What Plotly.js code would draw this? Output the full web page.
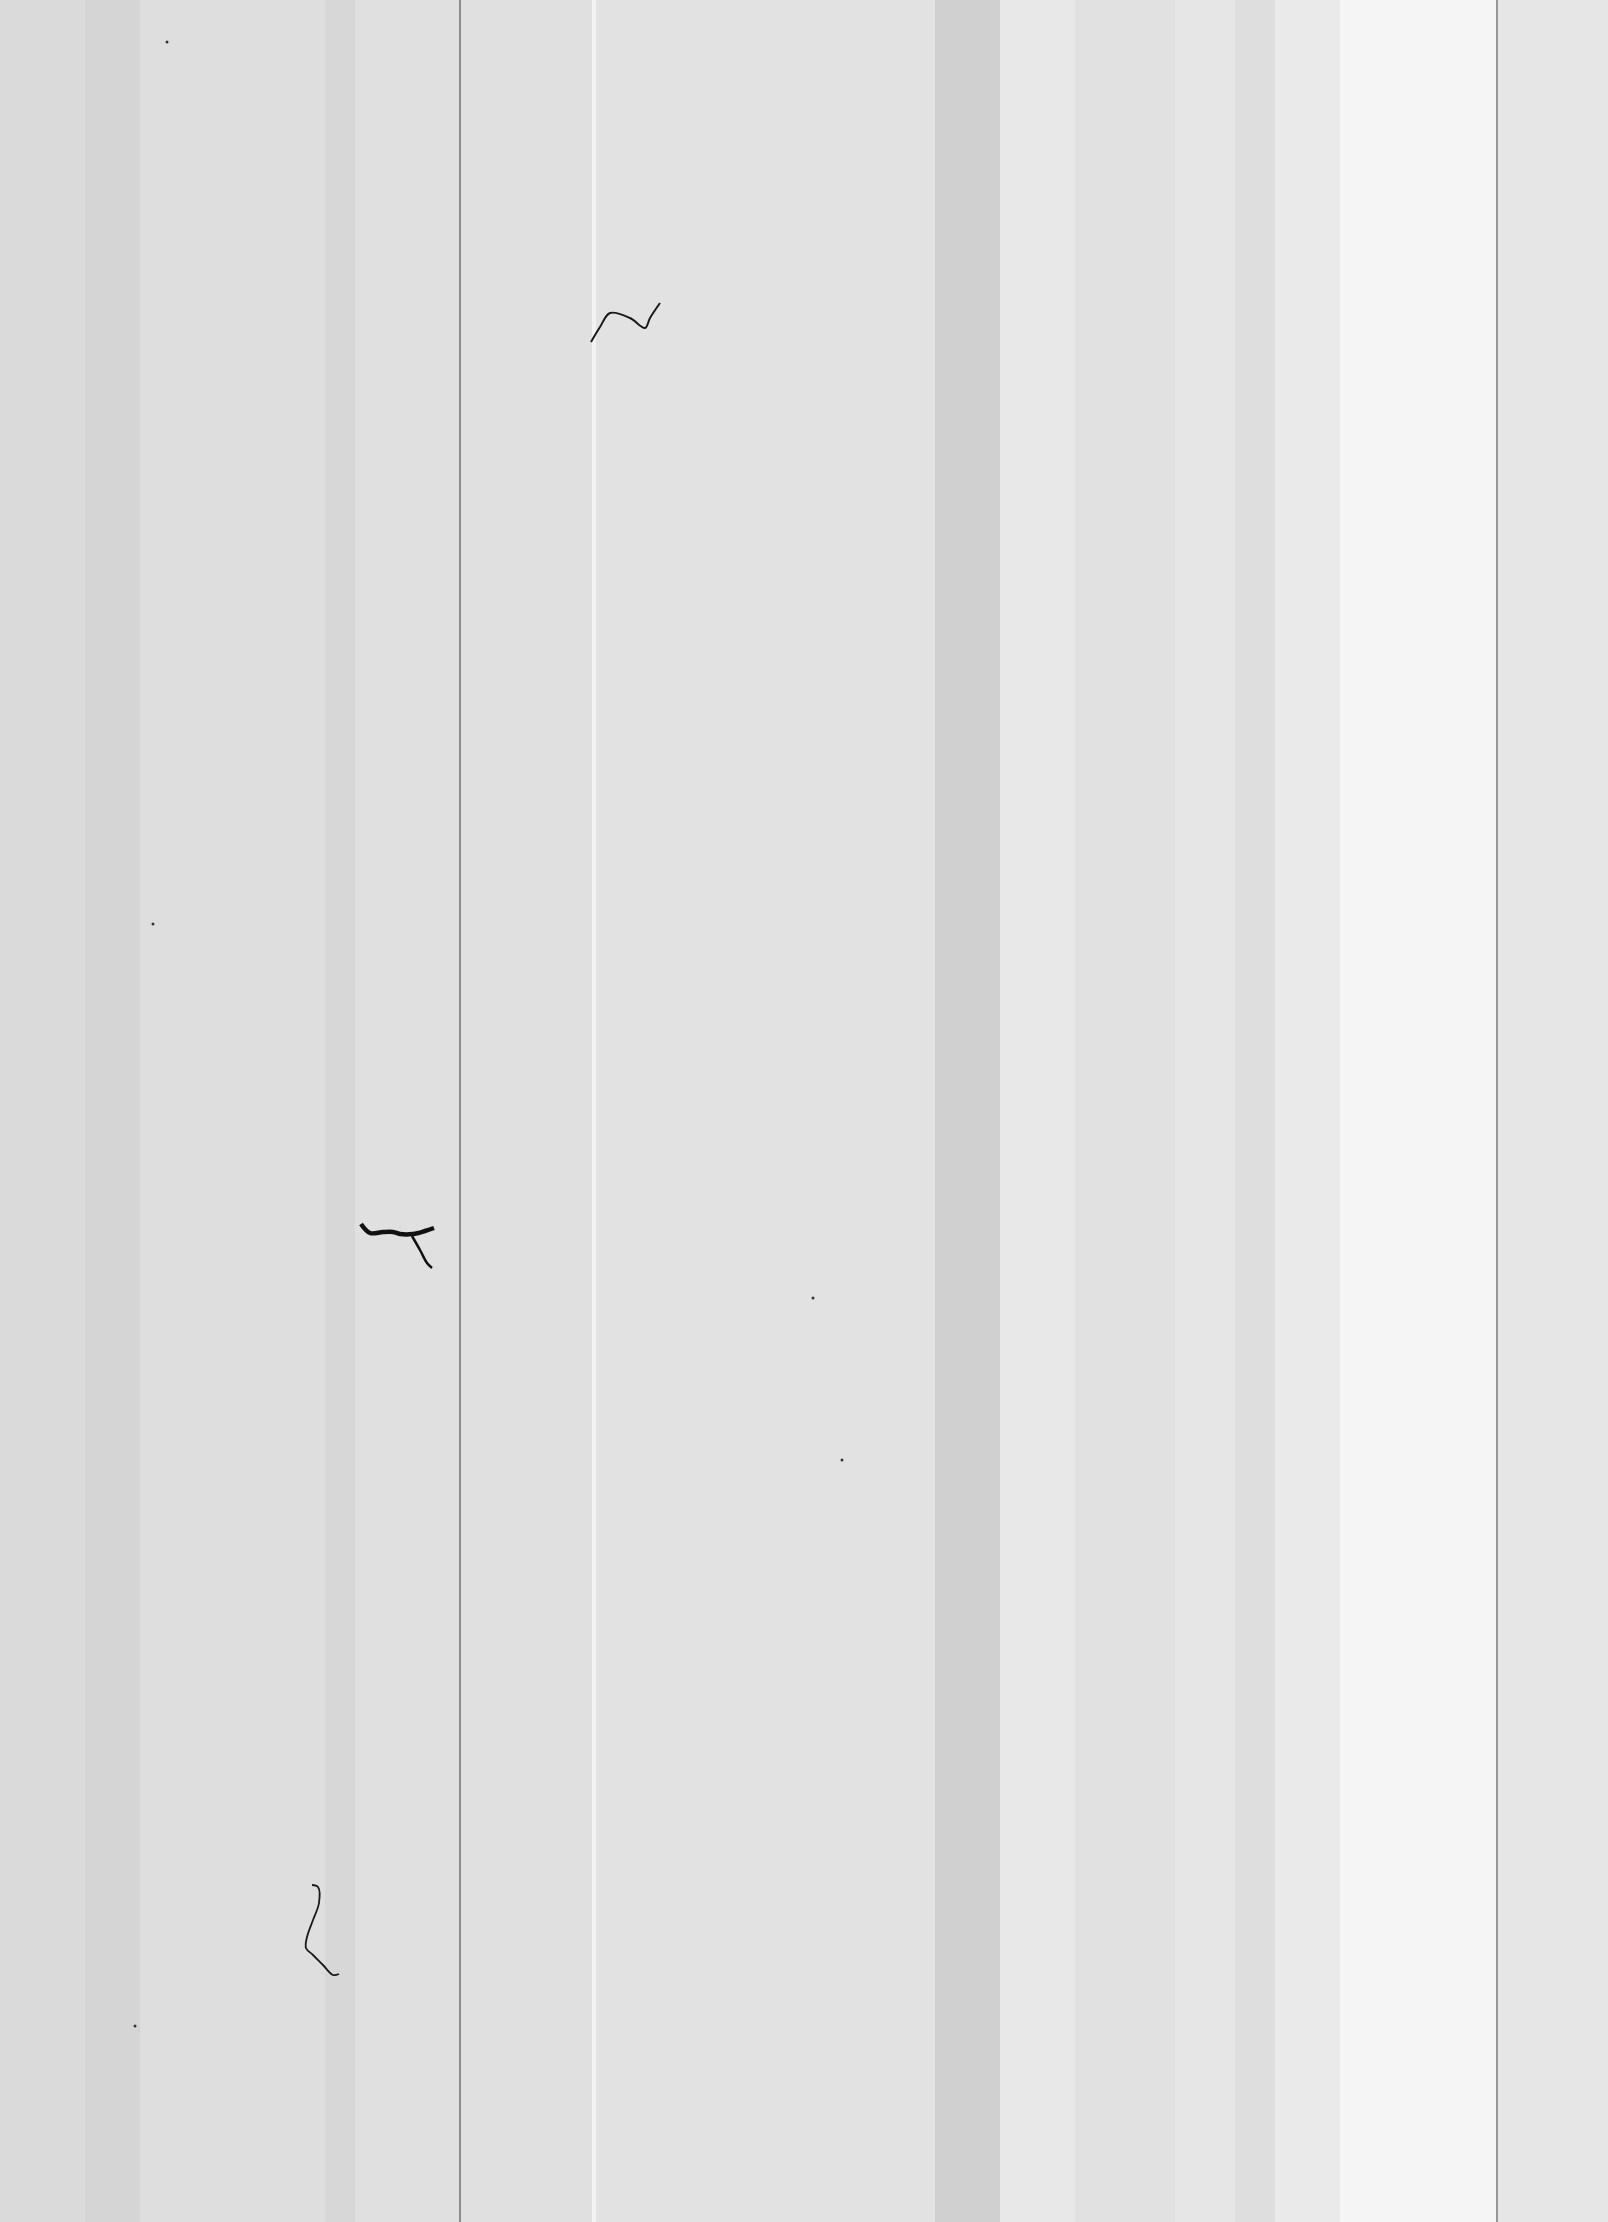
<!DOCTYPE html>
<html>
<head>
<meta charset="utf-8">
<script src="https://cdn.plot.ly/plotly-3.0.1.min.js"></script>
<style>html,body{margin:0;padding:0;background:#dedede;}#chart{width:1608px;height:2222px;}</style>
</head>
<body>
<div id="chart"></div>
<script>
// Column band edges (page px) and grey level of each band
const bandEdges = [0, 85, 140, 325, 355, 459, 461, 592, 596, 935, 1000, 1075, 1175, 1235, 1275, 1340, 1496, 1498, 1608];
const bandGrey  = [218, 213, 222, 215, 224, 140, 224, 243, 226, 208, 232, 225, 230, 222, 234, 245, 150, 230];
const pageRows  = [0, 2222];

// Fibres / specks on the scan
const fibre1X = [591, 600, 610, 630, 645, 650, 660];
const fibre1Y = [342, 327, 313, 318, 328, 318, 303];
const fibre2X = [361, 370, 383, 393, 400, 413, 425, 434];
const fibre2Y = [1224, 1233, 1232, 1232, 1234, 1234, 1231, 1228];
const fibre2bX = [412, 420, 427, 432];
const fibre2bY = [1236, 1250, 1263, 1268];
const fibre3X = [312, 318, 319, 313, 307, 306, 313, 323, 333, 339];
const fibre3Y = [1885, 1887, 1903, 1920, 1937, 1948, 1955, 1965, 1975, 1974];
const speckX = [167, 153, 813, 135, 842];
const speckY = [42, 924, 1298, 2026, 1460];

const traces = [
  {
    type: 'heatmap',
    x: bandEdges, y: pageRows, z: [bandGrey],
    zmin: 0, zmax: 255,
    colorscale: [[0, '#000000'], [1, '#ffffff']],
    showscale: false, hoverinfo: 'skip'
  },
  {type: 'scatter', mode: 'lines', x: fibre1X, y: fibre1Y, line: {color: '#1a1a1a', width: 2, shape: 'spline'}, hoverinfo: 'skip'},
  {type: 'scatter', mode: 'lines', x: fibre2X, y: fibre2Y, line: {color: '#111111', width: 4.5, shape: 'spline'}, hoverinfo: 'skip'},
  {type: 'scatter', mode: 'lines', x: fibre2bX, y: fibre2bY, line: {color: '#111111', width: 2.5, shape: 'spline'}, hoverinfo: 'skip'},
  {type: 'scatter', mode: 'lines', x: fibre3X, y: fibre3Y, line: {color: '#1a1a1a', width: 1.8, shape: 'spline'}, hoverinfo: 'skip'},
  {type: 'scatter', mode: 'markers', x: speckX, y: speckY, marker: {color: '#333333', size: 3}, hoverinfo: 'skip'}
];

const layout = {
  width: 1608, height: 2222,
  margin: {l: 0, r: 0, t: 0, b: 0, pad: 0},
  paper_bgcolor: '#dedede', plot_bgcolor: '#dedede',
  showlegend: false,
  xaxis: {range: [0, 1608], visible: false, fixedrange: true},
  yaxis: {range: [2222, 0], visible: false, fixedrange: true}
};

Plotly.newPlot('chart', traces, layout, {staticPlot: true, displayModeBar: false});
</script>
</body>
</html>
